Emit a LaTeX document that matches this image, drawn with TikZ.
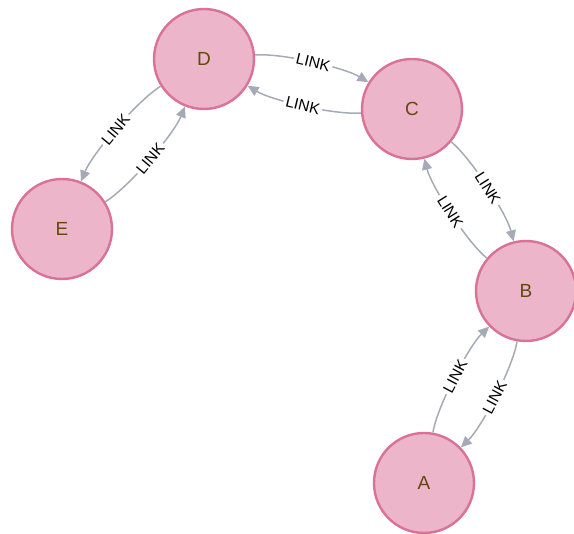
\documentclass[tikz,border=0pt]{standalone}
\usepackage{fontspec}
\setmainfont{Liberation Sans}
\usepackage{xcolor}
\usetikzlibrary{arrows.meta}

\definecolor{nodefill}{HTML}{ECB5C9}
\definecolor{nodeline}{HTML}{DA7298}
\definecolor{nodetext}{HTML}{604A0E}
\definecolor{relgray}{HTML}{A5ABB6}

\begin{document}
\begin{tikzpicture}[
    x=1pt, y=1pt,
    entity/.style={circle, draw=nodeline, fill=nodefill, line width=2.4pt,
                   minimum size=100pt, inner sep=0pt,
                   font=\fontsize{19}{19}\selectfont, text=nodetext},
    rel/.style={-{Triangle[length=11pt, width=10pt]}, draw=relgray, line width=1.5pt,
                looseness=0.6},
    lbl/.style={sloped, fill=white, inner sep=2.5pt,
                font=\fontsize{15.5}{15.5}\selectfont, text=black},
]
\useasboundingbox (0,0) rectangle (574,-534);

\node[entity] (D) at (204,-59) {D};
\node[entity] (C) at (412,-109) {C};
\node[entity] (E) at (62,-229) {E};
\node[entity] (B) at (526,-291) {B};
\node[entity] (A) at (424,-483) {A};

% each pair of nodes has one LINK each way
\draw[rel] (D) to[bend left=18] node[lbl] {LINK} (C);
\draw[rel] (C) to[bend left=18] node[lbl] {LINK} (D);
\draw[rel] (D) to[bend right=18] node[lbl] {LINK} (E);
\draw[rel] (E) to[bend right=18] node[lbl] {LINK} (D);
\draw[rel] (C) to[bend left=18] node[lbl] {LINK} (B);
\draw[rel] (B) to[bend left=18] node[lbl] {LINK} (C);
\draw[rel] (A) to[bend left=18] node[lbl] {LINK} (B);
\draw[rel] (B) to[bend left=18] node[lbl] {LINK} (A);
\end{tikzpicture}
\end{document}
